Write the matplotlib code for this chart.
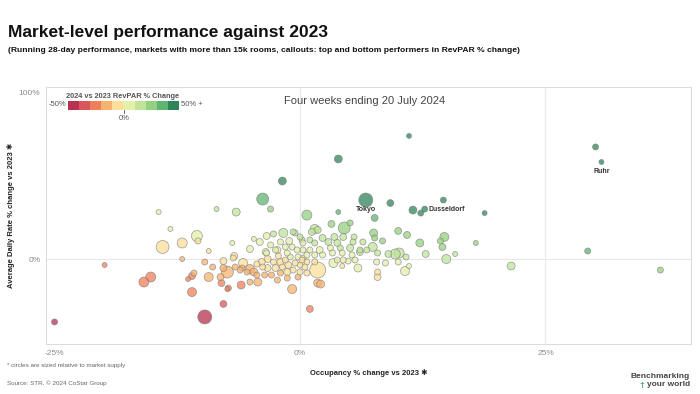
import numpy as np
import matplotlib
matplotlib.use("Agg")
import matplotlib.pyplot as plt
from matplotlib.colors import ListedColormap, BoundaryNorm
from matplotlib.cm import ScalarMappable

plt.rcParams['font.family'] = ['Liberation Sans', 'DejaVu Sans']

# occupancy % change vs 2023, ADR % change vs 2023, supply (thousand rooms)
occ_change = [-25.0, -19.9, -15.9, -15.2, -14.4, -13.2, -14.0, -12.0, -10.5, -10.4,
              -12.0, -11.4, -10.8, -11.0, -11.0, -9.7, -8.5, -6.5, -3.8, -3.0,
              -1.8, 3.9, 0.7, 3.9, 6.7, 9.2, 11.5, 12.3, 12.7, 14.6,
              18.8, 11.1, 30.1, 30.7, 10.0, 10.9, 8.4, 12.2, 14.7, 14.3,
              14.5, 17.9, 12.8, 15.8, 14.9, 9.7, 10.1, 9.0, 10.8, 10.0,
              8.7, 11.1, 10.7, 21.5, 29.3, 36.7, 7.9, 7.9, 1.0, 1.8,
              1.8, 2.1, -0.8, -7.8, -6.0, -7.4, -9.3, -8.1, -8.0, -7.4,
              -9.7, -9.3, -7.8, -6.9, -6.7, -5.8, -5.9, -5.1, -4.7, -4.3,
              -5.1, -4.7, -4.1, -3.5, -3.4, -2.7, -1.7, -2.3, -8.9, -7.8,
              -6.8, -6.6, -6.1, -5.4, -4.4, -3.9, -3.8, -3.4, -3.3, -3.3,
              -2.7, -2.5, -2.2, -2.0, -1.8, -1.5, -1.3, -1.2, -1.0, -0.5,
              -0.2, 0.0, 0.3, -4.4, -3.6, -2.9, -2.0, -1.3, -0.7, 0.0,
              -2.3, -1.3, -0.2, -5.1, -7.3, -3.0, -2.5, -2.0, -1.5, -1.1,
              -0.8, -0.5, -0.3, 0.0, 0.3, 0.2, 1.0, 1.2, 1.8, 1.5,
              3.2, 5.1, 4.5, 7.6, 3.5, 4.4, 2.3, 1.5, 2.9, 3.8,
              5.4, 6.4, 7.6, 7.4, 7.5, 5.5, 6.8, 6.1, 5.1, 4.1,
              3.1, 2.0, 1.0, 0.3, 5.3, 4.3, 3.3, 2.3, 1.5, 0.7,
              5.6, 7.9, 7.8, 4.4, 3.8, 4.9, 1.5, 0.7, 0.2, 3.4,
              4.3, 0.5, 0.7, 5.9, 6.1, -0.7]
adr_change = [-37.7, -3.6, -13.8, -10.8, 28.1, 18.0, 7.2, 9.6, 13.8, 10.8,
              0.0, -12.0, -8.4, -10.2, -19.8, -34.7, 29.9, 28.1, 35.9, 29.9,
              46.7, 59.9, 26.3, 28.1, 35.3, 33.5, 29.3, 27.5, 29.9, 35.3,
              27.5, 73.7, 67.1, 58.1, 16.8, 14.4, 10.8, 9.6, 13.2, 10.8,
              7.2, 9.6, 3.0, 3.0, 0.0, 3.0, 3.6, 3.0, 1.2, -1.8,
              -2.4, -4.2, -7.2, -4.2, 4.8, -6.6, -7.8, -10.8, -29.9, -6.6,
              -14.4, -15.0, -18.0, -26.9, -15.6, -7.8, -10.8, -10.8, -14.4, -18.0,
              -1.8, 4.8, -1.2, 9.6, 1.8, -2.4, -5.4, -6.0, -7.8, -13.8,
              6.0, 12.0, 10.2, 4.2, 13.8, 15.0, 15.6, 5.4, -4.8, -5.4,
              0.6, -4.8, -6.6, -7.8, -3.0, -1.8, -4.8, 3.6, 0.0, -5.4,
              -1.8, -5.4, 1.8, -1.8, -4.8, -0.6, 3.6, -3.6, 1.2, -2.4,
              1.2, -3.6, 0.6, -9.6, -9.6, -9.6, -8.4, -7.8, -6.6, -7.8,
              -12.6, -11.4, -10.8, -13.8, -17.4, 8.4, 5.4, 10.2, 7.2, 10.8,
              7.2, 15.6, 5.4, 13.2, 9.6, 11.4, 11.4, 16.2, 17.4, 18.0,
              21.0, 21.6, 18.6, 24.6, 13.2, 13.2, 12.6, 9.6, 10.2, 9.6,
              10.2, 10.2, 12.6, 7.2, 15.6, 13.2, 5.4, 5.4, 6.6, 6.6,
              6.6, 5.4, 5.4, 5.4, 2.4, 3.6, 3.6, 2.4, 2.4, 2.4,
              -0.6, 3.6, -1.8, -0.6, -0.6, -1.2, -1.8, -1.8, -0.6, -2.4,
              -4.2, -4.8, -8.4, -5.4, 4.2, 16.2]
supply = [22, 15, 60, 60, 15, 15, 100, 60, 72, 22,
          15, 15, 22, 29, 49, 118, 15, 38, 86, 22,
          38, 38, 60, 15, 118, 29, 38, 22, 22, 22,
          15, 15, 22, 15, 29, 29, 22, 38, 49, 22,
          29, 15, 29, 15, 49, 60, 60, 29, 22, 22,
          22, 15, 49, 38, 22, 22, 22, 29, 29, 154,
          38, 38, 49, 29, 38, 86, 49, 29, 29, 15,
          22, 15, 29, 15, 29, 49, 22, 49, 38, 38,
          29, 15, 29, 29, 29, 22, 49, 29, 22, 29,
          22, 22, 22, 22, 22, 29, 22, 22, 29, 29,
          22, 29, 22, 29, 22, 22, 22, 29, 22, 22,
          22, 22, 22, 22, 22, 22, 22, 29, 22, 22,
          22, 22, 22, 22, 22, 22, 22, 22, 22, 29,
          22, 22, 22, 22, 22, 22, 22, 29, 29, 49,
          29, 22, 86, 29, 29, 29, 29, 22, 29, 29,
          22, 22, 22, 49, 38, 22, 22, 22, 29, 22,
          22, 29, 22, 22, 22, 22, 22, 22, 22, 22,
          22, 22, 22, 22, 22, 22, 22, 22, 22, 49,
          15, 22, 22, 38, 29, 22]

callout_names = ["Tokyo", "Dusseldorf", "Ruhr"]
callout_index = [24, 28, 33]

legend_colors = ['#b8324f', '#d9565a', '#ef7f5b', '#f7b26f', '#fbdf9a',
                 '#e4efaa', '#bfe39a', '#94d07f', '#5fb472', '#2f8358']
legend_bounds = [-50, -40, -30, -20, -10, 0, 10, 20, 30, 40, 50]

occ = np.array(occ_change)
adr = np.array(adr_change)
sup = np.array(supply)
revpar = ((1 + occ / 100) * (1 + adr / 100) - 1) * 100

cmap = ListedColormap(legend_colors)
cmap.set_under(legend_colors[0])
cmap.set_over(legend_colors[-1])
norm = BoundaryNorm(legend_bounds, cmap.N)

fig = plt.figure(figsize=(7, 3.94), dpi=100)
ax = fig.add_axes([46/700, 1-344/394, 645/700, 257/394])

# big circles first so the small ones stay visible
order = np.argsort(-sup)
ax.scatter(occ[order], adr[order], s=sup[order]*0.86, c=revpar[order], cmap=cmap, norm=norm,
           alpha=0.75, edgecolors='#7a7a7a', linewidths=0.5, zorder=3)

for name, i in zip(callout_names, callout_index):
    if name == "Dusseldorf":
        ax.annotate(name, (occ[i], adr[i]), xytext=(3, 0), textcoords='offset points',
                    ha='left', va='center', fontsize=5, fontweight='bold', color='#333333', zorder=4)
    else:
        ax.annotate(name, (occ[i], adr[i]), xytext=(0, -7), textcoords='offset points',
                    ha='center', va='center', fontsize=5, fontweight='bold', color='#333333', zorder=4)

ax.set_xlim(-25.87, 39.82)
ax.set_ylim(-50.9, 103)
ax.axvline(0, color='#e8e8e8', lw=0.8, zorder=1)
ax.axvline(25, color='#e8e8e8', lw=0.8, zorder=1)
ax.axhline(0, color='#e8e8e8', lw=0.8, zorder=1)
for sp in ax.spines.values():
    sp.set_color('#dcdcdc')
    sp.set_linewidth(0.8)
ax.set_xticks([-25, 0, 25])
ax.set_xticklabels(['-25%', '0%', '25%'])
ax.set_yticks([0, 100])
ax.set_yticklabels(['0%', '100%'])
ax.tick_params(length=0, labelsize=6, labelcolor='#8c8c8c', pad=4)

ax.set_xlabel('Occupancy % change vs 2023 \u2731', fontsize=5.5, fontweight='bold', color='#222222')
ax.set_ylabel('Average Daily Rate % change vs 2023 \u2731', fontsize=5.5, fontweight='bold', color='#222222')
ax.xaxis.set_label_coords(0.5, -(369-344)/257)
ax.yaxis.set_label_coords(-(46-15)/645, 0.5)

ax.text((365-46)/645, (344-101)/257, 'Four weeks ending 20 July 2024', transform=ax.transAxes,
        ha='center', va='center', fontsize=8, color='#444444')

# legend
lax = fig.add_axes([68/700, 1-110/394, 111/700, 9/394])
cb = fig.colorbar(ScalarMappable(norm=norm, cmap=cmap), cax=lax, orientation='horizontal')
cb.outline.set_visible(False)
cb.set_ticks([])
cb.ax.minorticks_off()
cb.ax.tick_params(length=0, which='both')
fig.text(123/700, 1-96/394, '2024 vs 2023 RevPAR % Change', ha='center', va='center',
         fontsize=5.3, fontweight='bold', color='#555555')
fig.text(66/700, 1-105/394, '-50%', ha='right', va='center', fontsize=5.5, color='#555555')
fig.text(181/700, 1-105/394, '50% +', ha='left', va='center', fontsize=5.5, color='#555555')
fig.text(124/700, 1-118/394, '0%', ha='center', va='center', fontsize=5.5, color='#555555')
fig.add_artist(plt.Line2D([124/700, 124/700], [1-110/394, 1-112.5/394], color='#555555', lw=0.6))

# titles
fig.text(8/700, 1-33/394, 'Market-level performance against 2023', ha='left', va='center',
         fontsize=12.5, fontweight='bold', color='#111111')
fig.text(8/700, 1-50/394, '(Running 28-day performance, markets with more than 15k rooms, callouts: '
         'top and bottom performers in RevPAR % change)', ha='left', va='center',
         fontsize=6.1, fontweight='bold', color='#111111')

# footer
fig.text(7/700, 1-366/394, '* circles are sized relative to market supply', ha='left', va='center',
         fontsize=4.5, color='#666666')
fig.text(7/700, 1-383/394, 'Source: STR. \u00a9 2024 CoStar Group', ha='left', va='center',
         fontsize=4.5, color='#666666')
fig.text(690/700, 1-377/394, 'Benchmarking', ha='right', va='center', fontsize=6, fontweight='bold', color='#444444')
fig.text(690/700, 1-385/394, 'your world', ha='right', va='center', fontsize=6, fontweight='bold', color='#444444')
fig.text(642/700, 1-385/394, '\u2020', ha='center', va='center', fontsize=6, fontweight='bold', color='#2e9a6a')

fig.savefig('out.png', dpi=100)
